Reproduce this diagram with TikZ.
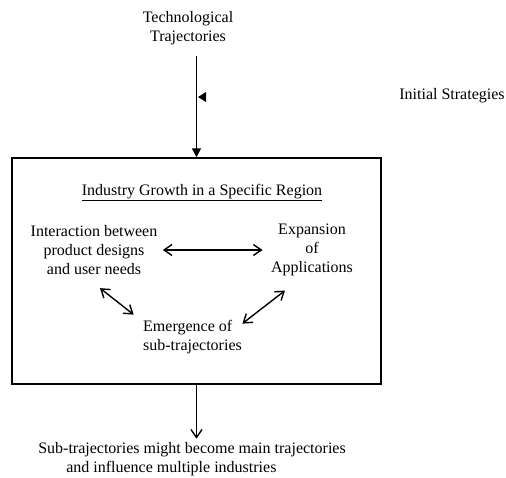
\documentclass[tikz,border=0pt]{standalone}
\usepackage{fontspec}
\setmainfont{Liberation Serif}
\usetikzlibrary{arrows.meta}

\begin{document}
\begin{tikzpicture}[x=1pt, y=-1pt, every node/.style={font=\fontsize{16}{19}\selectfont}, >={Straight Barb[length=8pt,width=11pt]}]
	\useasboundingbox (0,0) rectangle (506,477);
	\node[align=center] (tech) at (188,28) {Technological\\Trajectories};
	\node (strat) at (452,96) {Initial Strategies};
	\node[draw, line width=1.5pt, minimum width=369pt, minimum height=226pt] (region) at (196.5,271) {};
	\node[anchor=base] (title) at (202,195) {\underline{Industry Growth in a Specific Region}};
	\node[align=center] (inter) at (94,250) {Interaction between\\product designs\\and user needs};
	\node[align=center] (expan) at (312,250) {Expansion\\of\\Applications};
	\node[align=left] (emerg) at (192.5,337) {Emergence of\\sub-trajectories};
	\node[align=left] (outcome) at (192,459) {Sub-trajectories might become main trajectories\\\hspace*{28pt}and influence multiple industries};
	\draw[-{Triangle[length=9pt,width=9pt]}, line width=1.4pt, shorten <=8pt] (region.north |- tech.south) -- (region.north);
	\fill (206,92) -- (198,97) -- (206,102) -- cycle;
	\draw[<->, line width=1.4pt, shorten >=5pt] (inter.east) ++(2,0) -- (expan.west);
	\draw[<->, line width=1.4pt] ([xshift=6pt,yshift=-10pt]inter.south) -- ([xshift=-6pt,yshift=2pt]emerg.north west);
	\draw[<->, line width=1.4pt] ([xshift=-27pt,yshift=-11pt]expan.south) -- ([xshift=-3pt,yshift=-7pt]emerg.north east);
	\draw[->, line width=1.4pt] (region.south) -- (region.south |- outcome.north);
\end{tikzpicture}
\end{document}
